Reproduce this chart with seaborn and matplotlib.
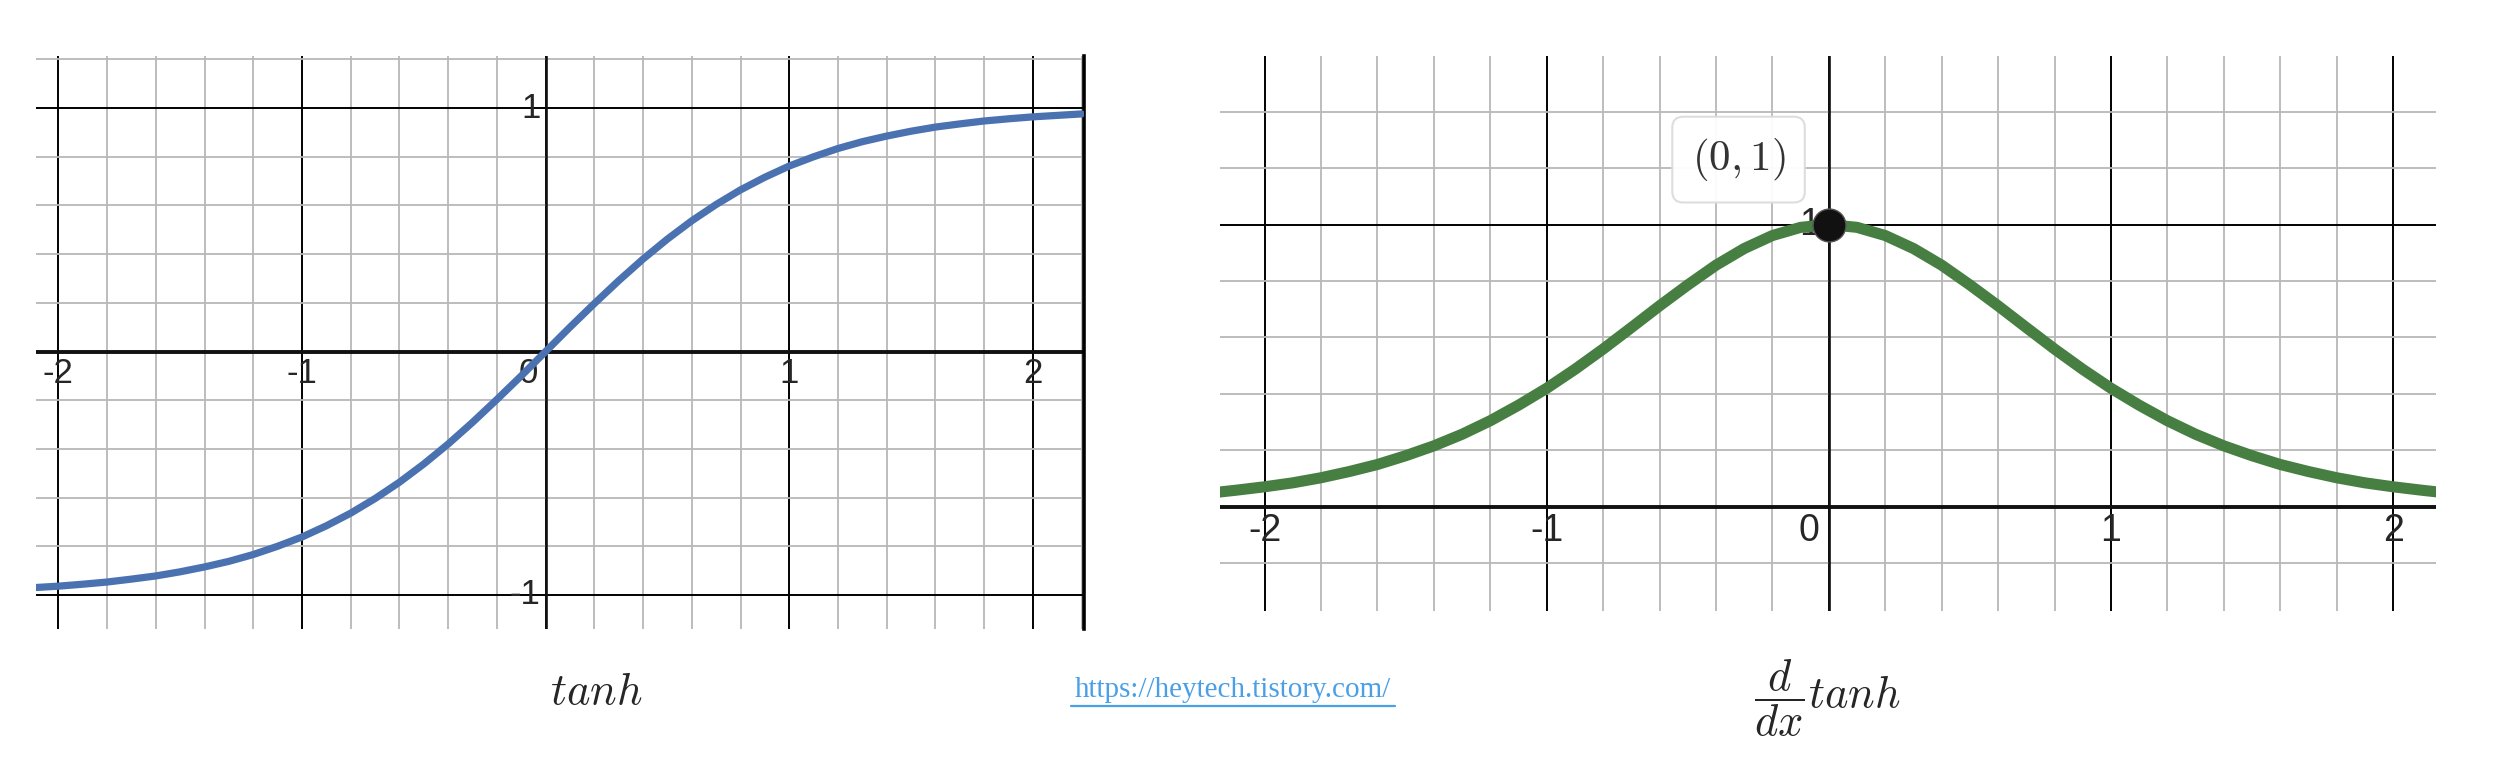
import matplotlib
matplotlib.use('Agg')
import matplotlib.pyplot as plt
import seaborn as sns
from matplotlib.ticker import MultipleLocator
from matplotlib.lines import Line2D

# Values
x_vals = [-2.2, -2.1, -2.0, -1.9, -1.8, -1.7, -1.6, -1.5, -1.4, -1.3, -1.2, -1.1,
          -1.0, -0.9, -0.8, -0.7, -0.6, -0.5, -0.4, -0.3, -0.2, -0.1, 0.0,
          0.1, 0.2, 0.3, 0.4, 0.5, 0.6, 0.7, 0.8, 0.9, 1.0, 1.1, 1.2, 1.3,
          1.4, 1.5, 1.6, 1.7, 1.8, 1.9, 2.0, 2.1, 2.2]
tanh_vals = [-0.976, -0.970, -0.964, -0.956, -0.947, -0.935, -0.922, -0.905, -0.885,
             -0.862, -0.834, -0.800, -0.762, -0.716, -0.664, -0.604, -0.537, -0.462,
             -0.380, -0.291, -0.197, -0.100, 0.0,
             0.100, 0.197, 0.291, 0.380, 0.462, 0.537, 0.604, 0.664, 0.716, 0.762,
             0.800, 0.834, 0.862, 0.885, 0.905, 0.922, 0.935, 0.947, 0.956, 0.964,
             0.970, 0.976]
dtanh_vals = [0.048, 0.059, 0.071, 0.085, 0.103, 0.125, 0.150, 0.181, 0.216, 0.257,
              0.305, 0.360, 0.420, 0.487, 0.559, 0.635, 0.712, 0.786, 0.856, 0.915,
              0.961, 0.990, 1.0,
              0.990, 0.961, 0.915, 0.856, 0.786, 0.712, 0.635, 0.559, 0.487, 0.420,
              0.360, 0.305, 0.257, 0.216, 0.181, 0.150, 0.125, 0.103, 0.085, 0.071,
              0.059, 0.048]

x_ticks = [-2, -1, 1, 2]
peak_point = (0, 1)
peak_label = r'$(0, 1)$'

sns.set_style('white')
plt.rcParams['mathtext.fontset'] = 'cm'

fig = plt.figure(figsize=(25.14, 7.74), dpi=100)
ax1 = fig.add_axes([36 / 2514, 1 - 629 / 774, 1048 / 2514, 573 / 774])
ax2 = fig.add_axes([1220 / 2514, 1 - 611 / 774, 1216 / 2514, 555 / 774])


def desmos_grid(ax, xlim, ylim):
    ax.set_xlim(*xlim)
    ax.set_ylim(*ylim)
    ax.xaxis.set_major_locator(MultipleLocator(1))
    ax.yaxis.set_major_locator(MultipleLocator(1))
    ax.xaxis.set_minor_locator(MultipleLocator(0.2))
    ax.yaxis.set_minor_locator(MultipleLocator(0.2))
    ax.grid(which='minor', color='#b8b8b8', lw=1.3, zorder=0)
    ax.grid(which='major', color='black', lw=1.4, zorder=1)
    ax.tick_params(which='both', length=0, labelbottom=False, labelleft=False)
    for s in ax.spines.values():
        s.set_visible(False)
    ax.axhline(0, color='#111111', lw=2.8, zorder=2)
    ax.axvline(0, color='#111111', lw=1.9, zorder=2)
    ax.set_xlabel('')
    ax.set_ylabel('')


# Left: tanh
sns.lineplot(x=x_vals, y=tanh_vals, ax=ax1, color='#4a72b0', lw=5.2, zorder=4)
desmos_grid(ax1, (-2.092, 2.21), (-1.14, 1.214))
ax1.spines['right'].set_visible(True)
ax1.spines['right'].set_color('black')
ax1.spines['right'].set_linewidth(2.6)
lab = dict(family='Liberation Sans', fontsize=25, zorder=3)
for t in x_ticks:
    ax1.text(t, -0.09, str(t), ha='center', va='center', **lab)
ax1.text(-0.07, -0.09, '0', ha='center', va='center', **lab)
ax1.text(-0.02, 1, '1', ha='right', va='center', **lab)
ax1.text(-0.02, -1, '-1', ha='right', va='center', **lab)

# Right: derivative
sns.lineplot(x=x_vals, y=dtanh_vals, ax=ax2, color='#477f42', lw=8, zorder=4)
desmos_grid(ax2, (-2.158, 2.152), (-0.369, 1.597))
lab2 = dict(family='Liberation Sans', fontsize=27, zorder=3)
for t in x_ticks:
    ax2.text(t, -0.085, str(t), ha='center', va='center', **lab2)
ax2.text(-0.07, -0.085, '0', ha='center', va='center', **lab2)
ax2.text(-0.03, 1, '1', ha='right', va='center', **lab2)
sns.scatterplot(x=[peak_point[0]], y=[peak_point[1]], ax=ax2, s=560,
                color='#111111', edgecolor='#555555', linewidth=1, zorder=6)
ax2.text(-0.32, 1.23, peak_label, ha='center', va='center', fontsize=31,
         color='#333333', zorder=7,
         bbox=dict(boxstyle='round,pad=0.45,rounding_size=0.25',
                   facecolor='white', edgecolor='#dcdcdc', lw=1.5, alpha=0.95))
ax2.set_xlabel('')
ax2.set_ylabel('')

# Captions
fig.text(0.237, 0.107, r'$tanh$', ha='center', va='center', fontsize=32)
fig.text(0.727, 0.098, r'$\dfrac{d}{dx}tanh$', ha='center', va='center', fontsize=32)
fig.text(1233 / 2514, 1 - 690 / 774, 'https://heytech.tistory.com/', ha='center',
         va='center', fontsize=21, family='Liberation Serif', color='#4a9fe6')
fig.add_artist(Line2D([1071 / 2514, 1395 / 2514], [1 - 706 / 774, 1 - 706 / 774],
                      transform=fig.transFigure, color='#4a9fe6', lw=1.6))

fig.savefig('out.png', dpi=100)
